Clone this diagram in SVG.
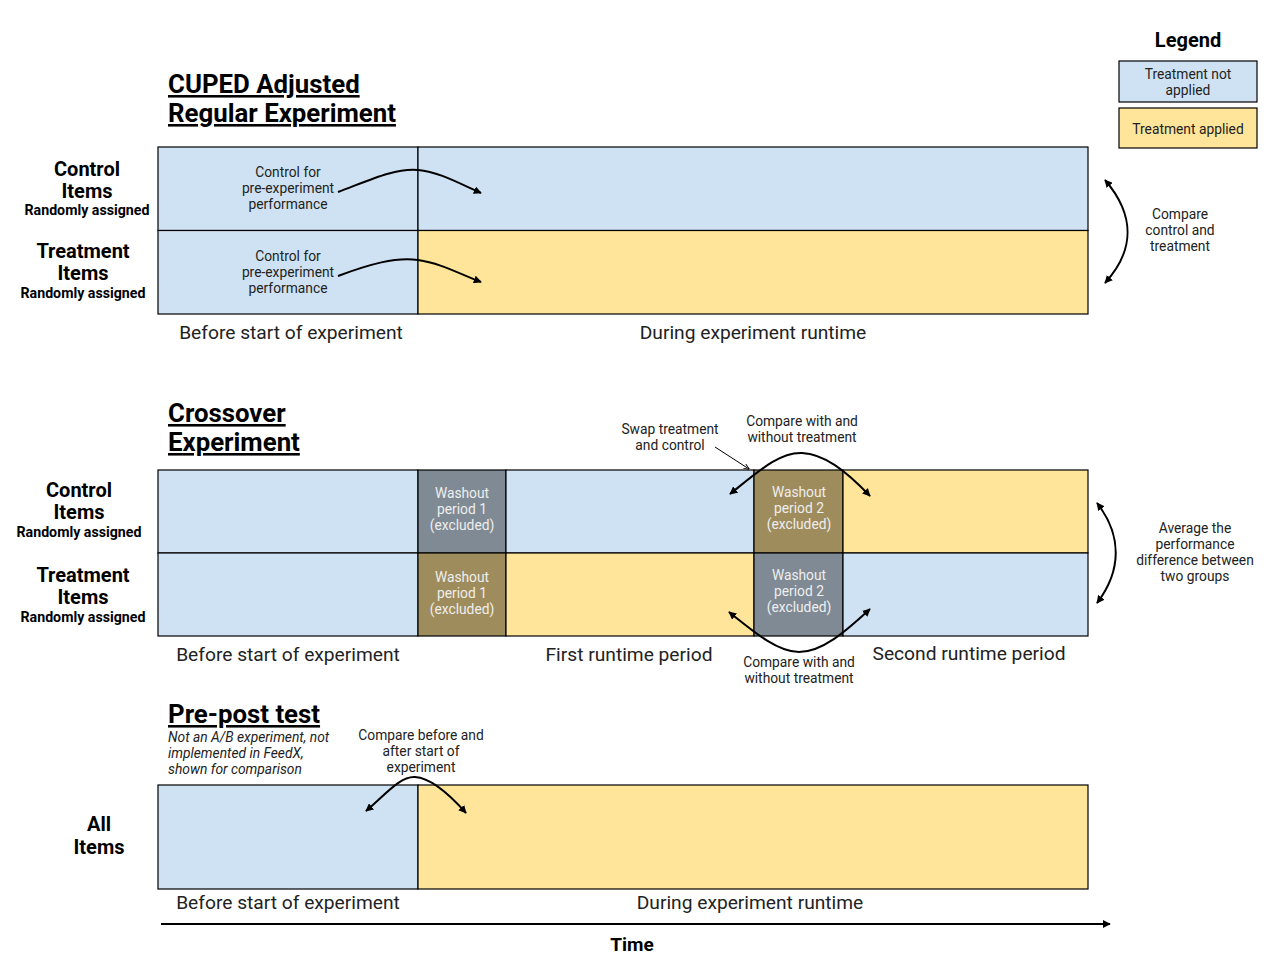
<svg xmlns="http://www.w3.org/2000/svg" width="1268" height="964" viewBox="0 0 1268 964">
<defs>
<marker id="ah" viewBox="0 0 10 10" refX="9" refY="5" markerWidth="8" markerHeight="8" markerUnits="userSpaceOnUse" orient="auto-start-reverse"><path d="M0,0 L10,5 L0,10 z" fill="#000"/></marker>
<marker id="ahs" viewBox="0 0 10 10" refX="9" refY="5" markerWidth="6" markerHeight="6" markerUnits="userSpaceOnUse" orient="auto"><path d="M0,1 L10,5 L0,9" fill="none" stroke="#000" stroke-width="1.5"/></marker>
<style>
text{font-family:Roboto,"Liberation Sans",sans-serif;fill:#000}
.t{font-size:25.8px;font-weight:bold;text-decoration:underline}
.big{font-size:20px;font-weight:bold;text-anchor:middle}
.ra{font-size:14.2px;font-weight:bold;text-anchor:middle}
.col{font-size:19.2px;text-anchor:middle;fill:#222}
.sm{font-size:13.8px;text-anchor:middle;fill:#222}
.wo{font-size:13.8px;text-anchor:middle;fill:#eeeeee}
.it{font-size:13.8px;font-style:italic;fill:#222}
.b{fill:#cfe2f3;stroke:#000;stroke-width:1.2}
.y{fill:#ffe599;stroke:#000;stroke-width:1.2}
.g{fill:#7f8a94;stroke:#000;stroke-width:1.2}
.o{fill:#9f8c5c;stroke:#000;stroke-width:1.2}
.c{fill:none;stroke:#000;stroke-width:2}
</style>
</defs>
<rect width="1268" height="964" fill="#fff"/>

<g id="legend">
<text x="1188" y="47" class="big">Legend</text>
<rect x="1119" y="61" width="138" height="41" class="b"/>
<text x="1188" y="79" class="sm">Treatment not</text>
<text x="1188" y="95" class="sm">applied</text>
<rect x="1119" y="108" width="138" height="40" class="y"/>
<text x="1188" y="134" class="sm">Treatment applied</text>
</g>

<g id="cuped">
<text x="168" y="93" class="t">CUPED Adjusted</text>
<text x="168" y="122" class="t">Regular Experiment</text>
<rect x="158" y="147" width="260" height="83.5" class="b"/>
<rect x="418" y="147" width="670" height="83.5" class="b"/>
<rect x="158" y="230.5" width="260" height="83.5" class="b"/>
<rect x="418" y="230.5" width="670" height="83.5" class="y"/>
<text x="87" y="176" class="big">Control</text>
<text x="87" y="198" class="big">Items</text>
<text x="87" y="215" class="ra">Randomly assigned</text>
<text x="83" y="258" class="big">Treatment</text>
<text x="83" y="280" class="big">Items</text>
<text x="83" y="298" class="ra">Randomly assigned</text>
<text x="288" y="177" class="sm">Control for</text>
<text x="288" y="193" class="sm">pre-experiment</text>
<text x="288" y="209" class="sm">performance</text>
<text x="288" y="261" class="sm">Control for</text>
<text x="288" y="277" class="sm">pre-experiment</text>
<text x="288" y="293" class="sm">performance</text>
<text x="291" y="339" class="col">Before start of experiment</text>
<text x="753" y="339" class="col">During experiment runtime</text>
<text x="1180" y="219" class="sm">Compare</text>
<text x="1180" y="235" class="sm">control and</text>
<text x="1180" y="251" class="sm">treatment</text>
</g>

<g id="crossover">
<text x="168" y="422" class="t">Crossover</text>
<text x="168" y="451" class="t">Experiment</text>
<rect x="158" y="470" width="260" height="83" class="b"/>
<rect x="418" y="470" width="88" height="83" class="g"/>
<rect x="506" y="470" width="248" height="83" class="b"/>
<rect x="754" y="470" width="89" height="83" class="o"/>
<rect x="843" y="470" width="245" height="83" class="y"/>
<rect x="158" y="553" width="260" height="83" class="b"/>
<rect x="418" y="553" width="88" height="83" class="o"/>
<rect x="506" y="553" width="248" height="83" class="y"/>
<rect x="754" y="553" width="89" height="83" class="g"/>
<rect x="843" y="553" width="245" height="83" class="b"/>
<text x="462" y="498" class="wo">Washout</text>
<text x="462" y="514" class="wo">period 1</text>
<text x="462" y="530" class="wo">(excluded)</text>
<text x="462" y="582" class="wo">Washout</text>
<text x="462" y="598" class="wo">period 1</text>
<text x="462" y="614" class="wo">(excluded)</text>
<text x="799" y="497" class="wo">Washout</text>
<text x="799" y="513" class="wo">period 2</text>
<text x="799" y="529" class="wo">(excluded)</text>
<text x="799" y="580" class="wo">Washout</text>
<text x="799" y="596" class="wo">period 2</text>
<text x="799" y="612" class="wo">(excluded)</text>
<text x="79" y="497" class="big">Control</text>
<text x="79" y="519" class="big">Items</text>
<text x="79" y="537" class="ra">Randomly assigned</text>
<text x="83" y="582" class="big">Treatment</text>
<text x="83" y="604" class="big">Items</text>
<text x="83" y="622" class="ra">Randomly assigned</text>
<text x="288" y="661" class="col">Before start of experiment</text>
<text x="629" y="661" class="col">First runtime period</text>
<text x="969" y="660" class="col">Second runtime period</text>
<text x="670" y="434" class="sm">Swap treatment</text>
<text x="670" y="450" class="sm">and control</text>
<text x="802" y="426" class="sm">Compare with and</text>
<text x="802" y="442" class="sm">without treatment</text>
<text x="799" y="667" class="sm">Compare with and</text>
<text x="799" y="683" class="sm">without treatment</text>
<text x="1195" y="533" class="sm">Average the</text>
<text x="1195" y="549" class="sm">performance</text>
<text x="1195" y="565" class="sm">difference between</text>
<text x="1195" y="581" class="sm">two groups</text>
</g>

<g id="prepost">
<text x="168" y="723" class="t">Pre-post test</text>
<text x="168" y="742" class="it">Not an A/B experiment, not</text>
<text x="168" y="758" class="it">implemented in FeedX,</text>
<text x="168" y="774" class="it">shown for comparison</text>
<text x="421" y="740" class="sm">Compare before and</text>
<text x="421" y="756" class="sm">after start of</text>
<text x="421" y="772" class="sm">experiment</text>
<rect x="158" y="785" width="260" height="104" class="b"/>
<rect x="418" y="785" width="670" height="104" class="y"/>
<text x="99" y="831" class="big">All</text>
<text x="99" y="854" class="big">Items</text>
<text x="288" y="909" class="col">Before start of experiment</text>
<text x="750" y="909" class="col">During experiment runtime</text>
</g>

<g id="time">
<text x="632" y="951" class="big" style="font-size:19px">Time</text>
</g>

<g id="connectors">
<path class="c" d="M338,192 C370,180 395,168 418,170 C440,172 460,184 481,193" marker-end="url(#ah)"/>
<path class="c" d="M338,276 C370,264 395,257 418,260 C440,263 460,274 481,282" marker-end="url(#ah)"/>
<path class="c" d="M1105,180 C1135,215 1135,250 1105,283" marker-start="url(#ah)" marker-end="url(#ah)"/>
<path d="M715,447 L749,469" fill="none" stroke="#000" stroke-width="1" marker-end="url(#ahs)"/>
<path class="c" d="M730,494 C760,470 780,452 802,453 C824,454 845,470 870,496" marker-start="url(#ah)" marker-end="url(#ah)"/>
<path class="c" d="M729,612 C755,633 778,652 799,652 C822,652 845,632 870,609" marker-start="url(#ah)" marker-end="url(#ah)"/>
<path class="c" d="M1097,503 C1122,535 1122,570 1097,603" marker-start="url(#ah)" marker-end="url(#ah)"/>
<path class="c" d="M366,811 C385,795 400,776 415,777 C432,778 450,795 466,813" marker-start="url(#ah)" marker-end="url(#ah)"/>
<path class="c" d="M161,924 L1110,924" marker-end="url(#ah)"/>
</g>
</svg>
